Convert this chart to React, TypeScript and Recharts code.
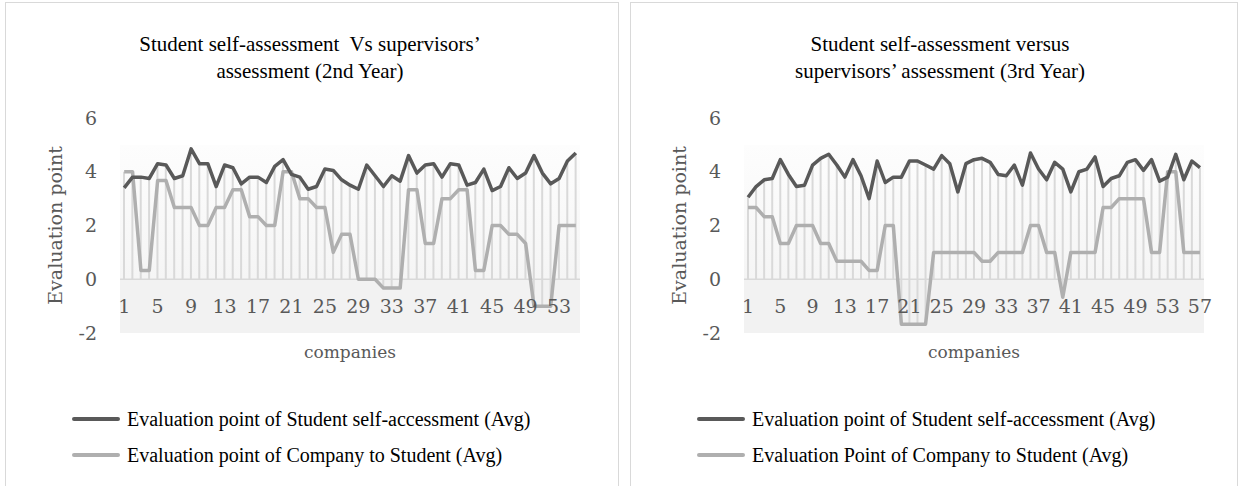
import React from "react";
import {
  ComposedChart,
  Line,
  Bar,
  XAxis,
  YAxis,
  ReferenceArea,
  ReferenceLine,
} from "recharts";

// 2nd year, 55 companies
const SECOND_SELF = [
  3.4, 3.8, 3.8, 3.75, 4.3, 4.25, 3.75, 3.85, 4.85, 4.3, 4.3, 3.45, 4.25, 4.15,
  3.55, 3.8, 3.8, 3.6, 4.2, 4.45, 3.9, 3.8, 3.35, 3.45, 4.1, 4.05, 3.7, 3.5,
  3.35, 4.25, 3.85, 3.45, 3.85, 3.65, 4.6, 3.95, 4.25, 4.3, 3.8, 4.3, 4.25, 3.5,
  3.6, 4.1, 3.3, 3.45, 4.15, 3.75, 3.95, 4.6, 3.95, 3.55, 3.75, 4.4, 4.7,
];
const SECOND_COMPANY = [
  4, 4, 0.33, 0.33, 3.67, 3.67, 2.67, 2.67, 2.67, 2, 2, 2.67, 2.67, 3.33, 3.33,
  2.33, 2.33, 2, 2, 4, 4, 3, 3, 2.67, 2.67, 1, 1.67, 1.67, 0, 0, 0, -0.33, -0.33,
  -0.33, 3.33, 3.33, 1.33, 1.33, 3, 3, 3.33, 3.33, 0.33, 0.33, 2, 2, 1.67, 1.67,
  1.33, -1, -1, -1, 2, 2, 2,
];

// 3rd year, 57 companies
const THIRD_SELF = [
  3.05, 3.45, 3.7, 3.75, 4.45, 3.9, 3.45, 3.5, 4.25, 4.5, 4.65, 4.25, 3.8, 4.45,
  3.85, 3.0, 4.4, 3.6, 3.8, 3.8, 4.4, 4.4, 4.25, 4.1, 4.6, 4.3, 3.25, 4.3, 4.45,
  4.5, 4.35, 3.9, 3.85, 4.25, 3.5, 4.7, 4.1, 3.7, 4.35, 4.1, 3.25, 4.0, 4.1,
  4.55, 3.45, 3.75, 3.85, 4.35, 4.45, 4.05, 4.45, 3.65, 3.8, 4.65, 3.7, 4.4, 4.15,
];
const THIRD_COMPANY = [
  2.67, 2.67, 2.33, 2.33, 1.33, 1.33, 2, 2, 2, 1.33, 1.33, 0.67, 0.67, 0.67, 0.67,
  0.33, 0.33, 2, 2, -1.67, -1.67, -1.67, -1.67, 1, 1, 1, 1, 1, 1, 0.67, 0.67, 1,
  1, 1, 1, 2, 2, 1, 1, -0.67, 1, 1, 1, 1, 2.67, 2.67, 3, 3, 3, 3, 1, 1, 4, 4, 1,
  1, 1,
];

const Y_TICKS = [-2, 0, 2, 4, 6];

const DARK = "#595959";
const LIGHT = "#afafaf";
const DROP = "#d9d9d9";
const AXIS_TEXT = "#595959";
const AXIS_FONT = "DejaVu Serif";
const TEXT_FONT = "'Liberation Serif', 'Times New Roman', serif";

function buildRows(self: number[], company: number[]) {
  return self.map((s, i) => ({
    company: String(i + 1),
    self: s,
    supervisor: company[i],
    drop: [Math.min(0, company[i]), Math.max(s, company[i])],
  }));
}

function CompanyTick({ x, y, payload }: any) {
  return (
    <text
      x={x}
      y={y - 27}
      textAnchor="middle"
      dominantBaseline="central"
      fill={AXIS_TEXT}
      fontSize={19}
      fontFamily={AXIS_FONT}
    >
      {payload.value}
    </text>
  );
}

function YearChart({ rows, id }: { rows: any[]; id: string }) {
  return (
    <ComposedChart
      width={600}
      height={486}
      data={rows}
      margin={{ top: 118, right: 10, bottom: 123, left: 0 }}
    >
      <defs>
        <linearGradient id={id} x1="0" y1="0" x2="0" y2="1">
          <stop offset="0%" stopColor="#fdfdfd" />
          <stop offset="100%" stopColor="#f5f5f5" />
        </linearGradient>
      </defs>
      <ReferenceArea y1={0} y2={5} fill={`url(#${id})`} fillOpacity={1} stroke="none" />
      <ReferenceArea y1={-2} y2={0} fill="#f2f2f2" fillOpacity={1} stroke="none" />
      <XAxis
        dataKey="company"
        interval={3}
        tickLine={false}
        axisLine={false}
        tickSize={0}
        tickMargin={0}
        height={30}
        tick={<CompanyTick />}
        label={{
          value: "companies",
          position: "insideBottom",
          offset: 5,
          fill: AXIS_TEXT,
          fontSize: 17,
          fontFamily: AXIS_FONT,
        }}
      />
      <YAxis
        domain={[-2, 6]}
        ticks={Y_TICKS}
        width={130}
        tickLine={false}
        axisLine={false}
        tickSize={0}
        tickMargin={23}
        tick={{ fill: AXIS_TEXT, fontSize: 19, fontFamily: AXIS_FONT }}
        label={{
          value: "Evaluation point",
          angle: -90,
          position: "center",
          fill: AXIS_TEXT,
          fontSize: 19,
          fontFamily: AXIS_FONT,
        }}
      />
      <Bar dataKey="drop" barSize={2} fill={DROP} isAnimationActive={false} />
      <ReferenceLine y={0} stroke="#d9d9d9" strokeWidth={1.5} />
      <Line
        type="linear"
        dataKey="supervisor"
        stroke={LIGHT}
        strokeWidth={3.5}
        dot={false}
        strokeLinejoin="round"
        isAnimationActive={false}
      />
      <Line
        type="linear"
        dataKey="self"
        stroke={DARK}
        strokeWidth={3.5}
        dot={false}
        strokeLinejoin="round"
        isAnimationActive={false}
      />
    </ComposedChart>
  );
}

function LegendBlock({ left, labels }: { left: number; labels: string[] }) {
  const colors = [DARK, LIGHT];
  return (
    <div style={{ position: "absolute", left, top: 401 }}>
      {labels.map((label, i) => (
        <div
          key={label}
          style={{ display: "flex", alignItems: "center", height: 36 }}
        >
          <div
            style={{
              width: 48,
              height: 4,
              background: colors[i],
              borderRadius: 2,
              marginRight: 7,
            }}
          />
          <span style={{ fontFamily: TEXT_FONT, fontSize: 20, color: "#000" }}>
            {label}
          </span>
        </div>
      ))}
    </div>
  );
}

function Title({ center, lines }: { center: number; lines: string[] }) {
  return (
    <div
      style={{
        position: "absolute",
        left: center - 250,
        width: 500,
        top: 31,
        textAlign: "center",
        fontFamily: TEXT_FONT,
        fontSize: 21,
        lineHeight: "27px",
        color: "#000",
        whiteSpace: "pre",
      }}
    >
      {lines.map((l) => (
        <div key={l}>{l}</div>
      ))}
    </div>
  );
}

export default function App() {
  const second = buildRows(SECOND_SELF, SECOND_COMPANY);
  const third = buildRows(THIRD_SELF, THIRD_COMPANY);
  return (
    <div
      style={{
        position: "absolute",
        left: 0,
        top: 0,
        width: 1239,
        height: 486,
        overflow: "hidden",
        background: "#fff",
      }}
    >
      <div
        style={{
          position: "absolute",
          left: 5,
          top: 2,
          width: 612,
          height: 500,
          border: "1px solid #d9d9d9",
        }}
      />
      <div
        style={{
          position: "absolute",
          left: 630,
          top: 2,
          width: 606,
          height: 500,
          border: "1px solid #d9d9d9",
        }}
      />
      <Title
        center={310}
        lines={["Student self-assessment  Vs supervisors’", "assessment (2nd Year)"]}
      />
      <Title
        center={940}
        lines={["Student self-assessment versus", "supervisors’ assessment (3rd Year)"]}
      />
      <div style={{ position: "absolute", left: -10, top: 0 }}>
        <YearChart rows={second} id="fadeSecond" />
      </div>
      <div style={{ position: "absolute", left: 614, top: 0 }}>
        <YearChart rows={third} id="fadeThird" />
      </div>
      <LegendBlock
        left={72}
        labels={[
          "Evaluation point of Student self-accessment (Avg)",
          "Evaluation point of Company to Student (Avg)",
        ]}
      />
      <LegendBlock
        left={697}
        labels={[
          "Evaluation point of Student self-accessment (Avg)",
          "Evaluation Point of Company to Student (Avg)",
        ]}
      />
    </div>
  );
}
